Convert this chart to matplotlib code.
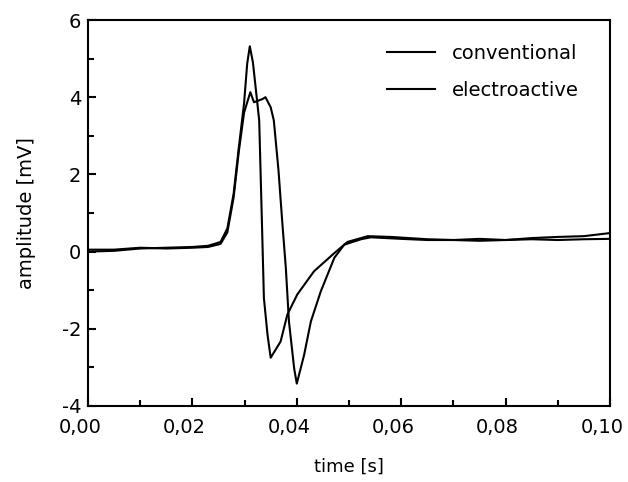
import numpy as np
import matplotlib
matplotlib.use('Agg')
import matplotlib.pyplot as plt
import matplotlib.transforms as mtransforms
from matplotlib.ticker import MultipleLocator, FuncFormatter

# conventional electrode (sharp spike)
t_conv = [0.0, 0.005, 0.010, 0.015, 0.020, 0.023, 0.0254, 0.0267, 0.0279, 0.0289,
          0.0299, 0.0305, 0.0310, 0.0316, 0.0328, 0.0334, 0.0337, 0.0344, 0.0350,
          0.0369, 0.0382, 0.0401, 0.0433, 0.0471, 0.0497, 0.0536, 0.058, 0.065,
          0.070, 0.075, 0.080, 0.085, 0.090, 0.095, 0.100]
a_conv = [0.0, 0.02, 0.08, 0.10, 0.12, 0.15, 0.25, 0.6, 1.5, 2.7,
          3.84, 4.87, 5.32, 4.9, 3.4, 0.36, -1.2, -2.16, -2.75,
          -2.33, -1.63, -1.11, -0.51, -0.05, 0.25, 0.40, 0.38, 0.32,
          0.30, 0.33, 0.30, 0.35, 0.38, 0.40, 0.48]

# electroactive electrode (broad peak)
t_elec = [0.0, 0.005, 0.010, 0.015, 0.020, 0.023, 0.0254, 0.0267, 0.0279, 0.0289,
          0.0299, 0.0311, 0.0318, 0.0334, 0.0340, 0.0350, 0.0356, 0.0365, 0.0372,
          0.0379, 0.0385, 0.0395, 0.0400, 0.0414, 0.0427, 0.0446, 0.0472, 0.0491,
          0.0523, 0.0542, 0.060, 0.065, 0.070, 0.075, 0.080, 0.085, 0.090, 0.095, 0.100]
a_elec = [0.05, 0.05, 0.10, 0.08, 0.10, 0.12, 0.20, 0.5, 1.4, 2.6,
          3.6, 4.13, 3.87, 3.95, 4.0, 3.74, 3.4, 2.1, 0.8,
          -0.42, -1.81, -3.03, -3.42, -2.68, -1.81, -1.03, -0.16, 0.18,
          0.32, 0.37, 0.33, 0.30, 0.30, 0.28, 0.30, 0.32, 0.30, 0.32, 0.33]

plt.rcParams['font.family'] = ['DejaVu Sans']

fig = plt.figure(figsize=(6.28, 4.82), dpi=100)
ax = fig.add_axes([0.1401, 0.1577, 0.8312, 0.8008])

ax.plot(t_conv, a_conv, color='black', lw=1.5, label='conventional')
ax.plot(t_elec, a_elec, color='black', lw=1.5, label='electroactive')

ax.set_xlim(0, 0.10)
ax.set_ylim(-4, 6)
ax.xaxis.set_major_locator(MultipleLocator(0.02))
ax.xaxis.set_minor_locator(MultipleLocator(0.01))
ax.yaxis.set_major_locator(MultipleLocator(2))
ax.yaxis.set_minor_locator(MultipleLocator(1))
ax.xaxis.set_major_formatter(FuncFormatter(lambda v, p: f'{v:.2f}'.replace('.', ',')))
ax.yaxis.set_major_formatter(FuncFormatter(lambda v, p: f'{v:.0f}'))
ax.tick_params(which='both', direction='in', labelsize=14, width=1.5)
ax.tick_params(which='major', length=6)
ax.tick_params(which='minor', length=4)
ax.tick_params(axis='x', pad=9)
ax.tick_params(axis='y', pad=5)
for s in ax.spines.values():
    s.set_linewidth(1.5)

# x tick labels sit a little left of their ticks in the original
shift = mtransforms.ScaledTranslation(-8 / 100, 0, fig.dpi_scale_trans)
for lab in ax.get_xticklabels():
    lab.set_transform(lab.get_transform() + shift)

ax.set_xlabel('time [s]', fontsize=13)
ax.set_ylabel('amplitude [mV]', fontsize=14)
ax.xaxis.set_label_coords(0.5, -0.135)
ax.yaxis.set_label_coords(-0.10, 0.5)

ax.legend(loc='upper left', bbox_to_anchor=(0.558, 0.9585), frameon=False,
          fontsize=14, handlelength=2.47, handletextpad=0.88,
          borderaxespad=0, borderpad=0.4, labelspacing=0.95)

fig.savefig('out.png', dpi=100)
